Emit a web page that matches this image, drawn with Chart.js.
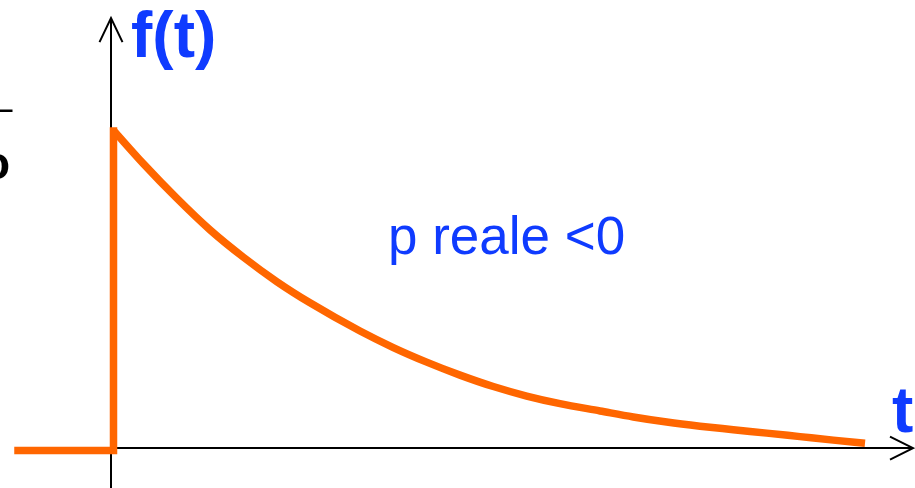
<!DOCTYPE html>
<html>
<head>
<meta charset="utf-8">
<script src="https://cdn.jsdelivr.net/npm/chart.js@4/dist/chart.umd.min.js"></script>
<style>
  html, body { margin: 0; padding: 0; background: #fff; }
  #wrap { width: 915px; height: 488px; }
</style>
</head>
<body>
<div id="wrap"><canvas id="c" width="915" height="488"></canvas></div>
<script>
// ---- data (t in arbitrary time units, f normalised to peak = 1) ----
const stepT = [-0.93, 0.025, 0.025];
const stepF = [-0.008, -0.008, 1.0];
const curveT = [0.03, 0.323, 0.657, 0.990, 1.323, 1.657, 1.990, 2.490, 2.823, 3.157, 3.490, 3.823, 4.157, 4.490, 4.890, 5.223, 5.557, 5.890, 6.223, 6.557, 6.890, 7.223, 7.540];
const curveF = [1.0, 0.897, 0.788, 0.688, 0.602, 0.525, 0.458, 0.369, 0.317, 0.271, 0.230, 0.194, 0.164, 0.140, 0.117, 0.098, 0.082, 0.069, 0.058, 0.047, 0.036, 0.025, 0.015];
const axisRange = { tMin: -1.11, tMax: 8.04, fMin: -0.126, fMax: 1.413 };
const axisTip = { t: 8.02, f: 1.356 };
const labels = { yAxis: 'f(t)', xAxis: 't', note: 'p reale <0' };

const ORANGE = '#ff6600';
const BLUE = '#0f3bff';

const axesPlugin = {
  id: 'axesArrows',
  beforeDatasetsDraw(chart) {
    const ctx = chart.ctx;
    const xs = chart.scales.x, ys = chart.scales.y;
    const x0 = xs.getPixelForValue(0);
    const y0 = ys.getPixelForValue(0);
    const xTip = xs.getPixelForValue(axisTip.t);
    const yTip = ys.getPixelForValue(axisTip.f);
    const bottom = chart.chartArea.bottom;
    ctx.save();
    ctx.strokeStyle = '#000';
    ctx.lineWidth = 2;
    ctx.lineCap = 'butt';
    // vertical axis
    ctx.beginPath();
    ctx.moveTo(x0, bottom);
    ctx.lineTo(x0, yTip);
    ctx.stroke();
    ctx.beginPath();
    ctx.moveTo(x0 - 11.5, yTip + 24);
    ctx.lineTo(x0, yTip);
    ctx.lineTo(x0 + 11.5, yTip + 24);
    ctx.stroke();
    // horizontal axis
    ctx.beginPath();
    ctx.moveTo(x0, y0);
    ctx.lineTo(xTip, y0);
    ctx.stroke();
    ctx.beginPath();
    ctx.moveTo(xTip - 23, y0 - 11.5);
    ctx.lineTo(xTip, y0);
    ctx.lineTo(xTip - 23, y0 + 11.5);
    ctx.stroke();
    ctx.restore();
  },
  afterDraw(chart) {
    const ctx = chart.ctx;
    ctx.save();
    ctx.textBaseline = 'alphabetic';
    ctx.textAlign = 'left';
    ctx.fillStyle = BLUE;
    ctx.font = 'bold 64px "Liberation Sans", Arial, sans-serif';
    ctx.fillText(labels.yAxis, 131, 57);
    ctx.fillText(labels.xAxis, 892, 432);
    ctx.font = '53px "Liberation Sans", Arial, sans-serif';
    ctx.fillText(labels.note, 388, 254);
    // cropped fragments at left edge
    ctx.fillStyle = '#000';
    ctx.fillRect(0, 109.5, 12.5, 2.5);
    ctx.font = 'bold 46px "Liberation Sans", Arial, sans-serif';
    ctx.fillText('o', -18, 179);
    ctx.restore();
  }
};

new Chart(document.getElementById('c'), {
  type: 'line',
  data: {
    datasets: [
      {
        data: stepT.map((t, i) => ({ x: t, y: stepF[i] })),
        borderColor: ORANGE,
        borderWidth: 7.5,
        tension: 0,
        borderJoinStyle: 'miter',
        borderCapStyle: 'square',
        pointRadius: 0,
        fill: false
      },
      {
        data: curveT.map((t, i) => ({ x: t, y: curveF[i] })),
        borderColor: ORANGE,
        borderWidth: 7.5,
        cubicInterpolationMode: 'monotone',
        borderCapStyle: 'butt',
        pointRadius: 0,
        fill: false
      }
    ]
  },
  options: {
    responsive: false,
    animation: false,
    devicePixelRatio: 1,
    layout: { padding: 0 },
    clip: false,
    plugins: { legend: { display: false }, tooltip: { enabled: false }, title: { display: false } },
    scales: {
      x: { type: 'linear', min: axisRange.tMin, max: axisRange.tMax, display: false },
      y: { type: 'linear', min: axisRange.fMin, max: axisRange.fMax, display: false }
    }
  },
  plugins: [axesPlugin]
});
</script>
</body>
</html>
